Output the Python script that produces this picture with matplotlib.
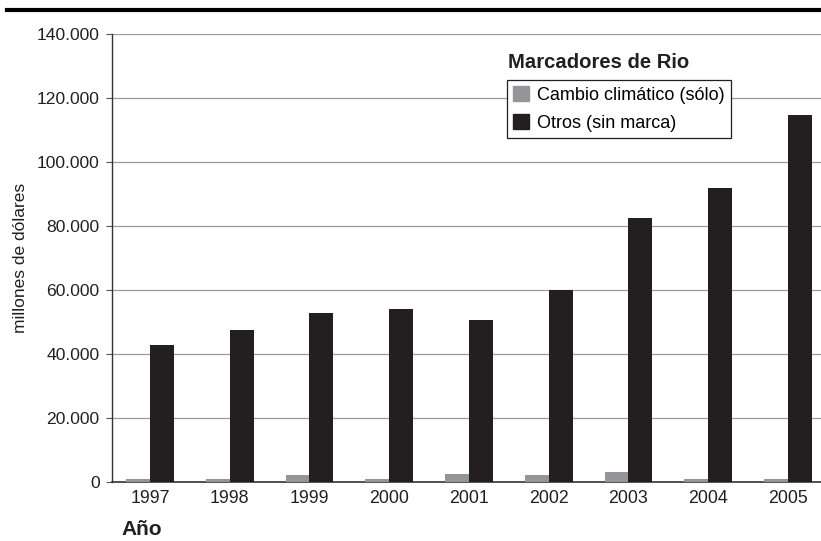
import matplotlib
matplotlib.use("Agg")
import matplotlib.pyplot as plt
import numpy as np
from matplotlib.lines import Line2D

plt.rcParams['font.family'] = ['Liberation Sans', 'DejaVu Sans']

years = ["1997", "1998", "1999", "2000", "2001", "2002", "2003", "2004", "2005"]
cambio_climatico = [900, 900, 2000, 900, 2400, 2000, 3100, 1000, 1000]
otros = [42700, 47300, 52700, 54000, 50500, 60000, 82500, 91800, 114600]
series_names = ["Cambio climático (sólo)", "Otros (sin marca)"]
yticks = [0, 20000, 40000, 60000, 80000, 100000, 120000, 140000]
ytick_labels = ["0", "20.000", "40.000", "60.000", "80.000", "100.000", "120.000", "140.000"]

W, H = 821, 541
fig = plt.figure(figsize=(W / 100, H / 100), dpi=100)

left, right, top, bottom = 112, 821, 33.7, 481.7
ax = fig.add_axes([left / W, 1 - bottom / H, (right - left) / W, (bottom - top) / H])

x = np.arange(len(years))
bw = 0.30
gray = "#939598"
black = "#231f20"
ax.bar(x - bw / 2, cambio_climatico, width=bw, color=gray, zorder=3)
ax.bar(x + bw / 2, otros, width=bw, color=black, zorder=3)

ax.set_xlim(-0.476, 8.414)
ax.set_ylim(0, 140000)
ax.set_yticks(yticks)
ax.set_yticklabels(ytick_labels, fontsize=12.6, color="#231f20")
ax.set_xticks(x)
ax.set_xticklabels(years, fontsize=12.8, color="#231f20")
ax.tick_params(axis='x', length=0, pad=6)
ax.tick_params(axis='y', length=4, width=0.8, color="#555555", pad=5)
ax.yaxis.grid(True, color="#9a9a9a", linewidth=0.9, zorder=0)
ax.set_axisbelow(True)
for s in ["top", "right"]:
    ax.spines[s].set_visible(False)
ax.spines["left"].set_color("#333333")
ax.spines["left"].set_linewidth(1.0)
ax.spines["bottom"].set_color("#333333")
ax.spines["bottom"].set_linewidth(1.2)

ax.set_ylabel("millones de dólares", fontsize=12.5, color="#231f20")
ax.yaxis.set_label_coords(-(112 - 28) / (right - left), 0.5)

# heavy rule across the top
fig.add_artist(Line2D([7 / W, 1.0], [1 - 10 / H, 1 - 10 / H], color="black", linewidth=3))

# axis title under the years
fig.text(121 / W, 1 - 535 / H, "Año", fontsize=15, fontweight="bold", color="#231f20",
         ha="left", va="baseline")

# legend with its heading set above the box
fig.text(508 / W, 1 - 62 / H, "Marcadores de Rio", fontsize=14.6, fontweight="bold",
         color="#231f20", ha="left", va="center")
handles = [plt.Rectangle((0, 0), 1, 1, color=gray), plt.Rectangle((0, 0), 1, 1, color=black)]
leg = fig.legend(handles, series_names, loc="upper left",
                 bbox_to_anchor=(507 / W, 1 - 80 / H), fontsize=13,
                 frameon=True, fancybox=False, edgecolor="#231f20", framealpha=1,
                 handlelength=0.88, handleheight=0.88, handletextpad=0.45,
                 borderpad=0.33, labelspacing=0.6, borderaxespad=0)
leg.get_frame().set_linewidth(0.9)

fig.savefig("out.png", dpi=100)
